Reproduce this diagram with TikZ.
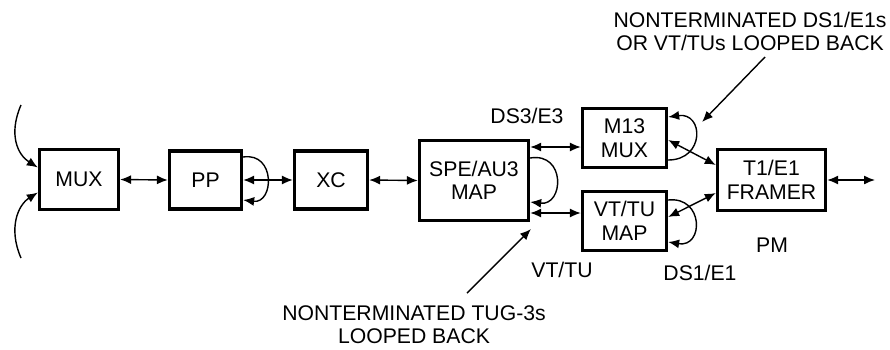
\documentclass[tikz,border=0pt]{standalone}
\usepackage{fontspec}
\setmainfont{Liberation Sans}
\usetikzlibrary{arrows.meta,calc}
\begin{document}
\begin{tikzpicture}[x=1pt,y=-1pt,
  blk/.style={draw,line width=3.3pt,align=center,inner sep=0pt},
  lbl/.style={align=center,inner sep=0pt},
  con/.style={line width=1.4pt},
  dbl/.style={con,{Latex[length=11pt,width=9pt]}-{Latex[length=11pt,width=9pt]}},
  one/.style={con,-{Latex[length=11pt,width=9pt]}},
  every node/.style={font=\fontsize{21.2}{23.5}\selectfont}]
\useasboundingbox (0,0) rectangle (890,349);
% blocks
\node[blk,minimum width=79pt,minimum height=60pt] (mux) at (79,179.5) {MUX};
\node[blk,minimum width=72pt,minimum height=58pt] (pp) at (205.5,180) {PP};
\node[blk,minimum width=73pt,minimum height=58pt] (xc) at (331,180) {XC};
\node[blk,minimum width=109pt,minimum height=80pt] (spe) at (474,180.5) {SPE/AU3\\MAP};
\node[blk,minimum width=84pt,minimum height=59pt] (m13) at (624.5,138) {M13\\MUX};
\node[blk,minimum width=84pt,minimum height=59pt] (vt) at (624.5,221) {VT/TU\\MAP};
\node[blk,minimum width=108pt,minimum height=61pt] (fr) at (771.5,180) {T1/E1\\FRAMER};
% labels
\node[lbl] (ds3) at (527,116) {DS3/E3};
\node[lbl] (vtl) at (562,270) {VT/TU};
\node[lbl] (ds1) at (700,273) {DS1/E1};
\node[lbl] (pm) at (772,245) {PM};
\node[lbl] (top) at (750,31.5) {NONTERMINATED DS1/E1s\\OR VT/TUs LOOPED BACK};
\node[lbl] (bot) at (414,324.5) {NONTERMINATED TUG-3s\\LOOPED BACK};
% left inputs
\coordinate (in1) at (21,105);
\coordinate (in2) at (21,258);
\draw[one] (in1) .. controls (8,135) and (18,155) .. ([yshift=12pt]mux.west);
\draw[one] (in2) .. controls (8,228) and (18,205) .. ([yshift=-13pt]mux.west);
% chain
\draw[dbl] (mux.east) -- (pp.west);
\draw[dbl] (pp.east) -- (xc.west);
\draw[dbl] (xc.east) -- (spe.west);
\draw[one] ([yshift=23pt]pp.east) .. controls (276,152) and (274,204) .. ([yshift=-20pt]pp.east);
% SPE outputs
\draw[dbl] ([yshift=33.5pt]spe.east) -- ([yshift=33.5pt]spe.east -| m13.west);
\draw[dbl] ([yshift=-32.5pt]spe.east) -- ([yshift=-32.5pt]spe.east -| vt.west);
\draw[one] ([yshift=22.5pt]spe.east) .. controls (566,152) and (564,206) .. ([yshift=-21.5pt]spe.east);
% M13 / VT loops and framer
\draw[one] ([yshift=-22pt]m13.east) .. controls (705,160) and (704,112) .. ([yshift=21pt]m13.east);
\draw[dbl] ([yshift=-2pt]m13.east) -- ([yshift=15pt]fr.west);
\draw[one] ([yshift=21pt]vt.east) .. controls (704,196) and (704,248) .. ([yshift=-21pt]vt.east);
\draw[dbl] ([yshift=4pt]vt.east) -- ([yshift=-13pt]fr.west);
\coordinate (out) at (875,180);
\draw[dbl] (fr.east) -- (out);
% annotation arrows
\coordinate (ta) at (765,57);
\coordinate (tb) at (702,122);
\draw[one] (ta) -- (tb);
\coordinate (ba) at (467,293);
\coordinate (bb) at (531,229);
\draw[one] (ba) -- (bb);
\end{tikzpicture}
\end{document}
